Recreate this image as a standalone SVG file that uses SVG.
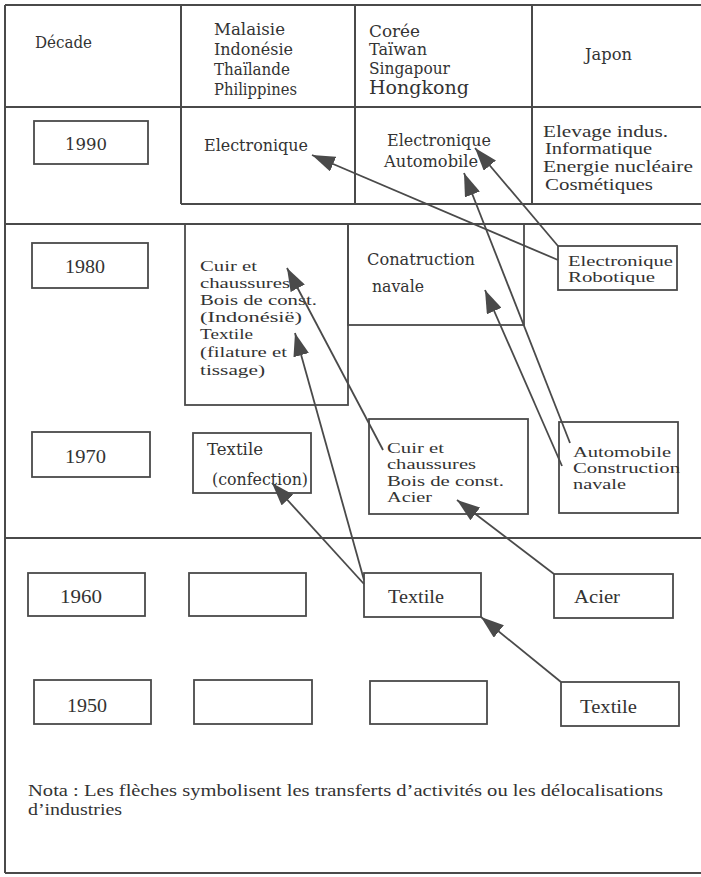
<svg xmlns="http://www.w3.org/2000/svg" width="701" height="877" viewBox="0 0 701 877">
<style>
.grid{fill:none;stroke:#4a4a4a;stroke-width:2}
.box{fill:none;stroke:#4a4a4a;stroke-width:1.8}
.s{font-family:"DejaVu Serif","Liberation Serif",serif;font-size:16px;fill:#333333}
.t{font-family:"Liberation Serif","Times New Roman",serif;font-size:18px;fill:#333333}
.tt{font-family:"Liberation Serif","Times New Roman",serif;font-size:15px;fill:#333333}
.tn{font-family:"Liberation Serif","Times New Roman",serif;font-size:16px;fill:#333333}
.conn line{stroke:#4a4a4a;stroke-width:1.8;marker-end:url(#ah)}
</style>
<defs>
<marker id="ah" markerUnits="userSpaceOnUse" viewBox="0 0 24 16" markerWidth="24" markerHeight="16" refX="23" refY="8" orient="auto"><path d="M0,0 L23,8 L0,16 z" fill="#4a4a4a"/></marker>
</defs>
<rect width="701" height="877" fill="#ffffff"/>
<g id="grid" class="grid">
<path d="M5,5 H701 M5,5 V873 M5,873 H701 M5,107 H701 M181,5 V204 M355,5 V204 M532,5 V204 M181,204 H701 M5,224 H701 M5,538 H701"/>
</g>
<g id="header-decade"><text class="s" x="35" y="48" textLength="57" lengthAdjust="spacingAndGlyphs">Décade</text></g>
<g id="header-malaisie" class="s">
<text x="214" y="35" textLength="71" lengthAdjust="spacingAndGlyphs">Malaisie</text>
<text x="214" y="55" textLength="79" lengthAdjust="spacingAndGlyphs">Indonésie</text>
<text x="214" y="75" textLength="76" lengthAdjust="spacingAndGlyphs">Thaïlande</text>
<text x="214" y="95" textLength="83" lengthAdjust="spacingAndGlyphs">Philippines</text>
</g>
<g id="header-coree" class="s">
<text x="369" y="37" textLength="51" lengthAdjust="spacingAndGlyphs">Corée</text>
<text x="369" y="55" textLength="58" lengthAdjust="spacingAndGlyphs">Taïwan</text>
<text x="369" y="74" textLength="81" lengthAdjust="spacingAndGlyphs">Singapour</text>
<text x="369" y="94" textLength="100" lengthAdjust="spacingAndGlyphs" style="font-size:18px">Hongkong</text>
</g>
<g id="header-japon"><text class="s" x="585" y="60" textLength="47" lengthAdjust="spacingAndGlyphs">Japon</text></g>

<g id="d1990"><rect class="box" x="34" y="121" width="114" height="43"/><text class="s" x="65" y="150" textLength="42" lengthAdjust="spacingAndGlyphs">1990</text></g>
<g id="m1990"><text class="s" x="204" y="151" textLength="104" lengthAdjust="spacingAndGlyphs">Electronique</text></g>
<g id="c1990" class="s">
<text x="387" y="146" textLength="104" lengthAdjust="spacingAndGlyphs">Electronique</text>
<text x="384" y="167" textLength="94" lengthAdjust="spacingAndGlyphs">Automobile</text>
</g>
<g id="j1990" class="tn">
<text x="543" y="137" textLength="125" lengthAdjust="spacingAndGlyphs">Elevage indus.</text>
<text x="545" y="154" textLength="107" lengthAdjust="spacingAndGlyphs">Informatique</text>
<text x="543" y="172" textLength="150" lengthAdjust="spacingAndGlyphs">Energie nucléaire</text>
<text x="545" y="190" textLength="108" lengthAdjust="spacingAndGlyphs">Cosmétiques</text>
</g>

<g id="d1980"><rect class="box" x="32" y="243" width="116" height="45"/><text class="t" x="65" y="273" textLength="40" lengthAdjust="spacingAndGlyphs">1980</text></g>
<g id="m1980"><rect class="box" x="185" y="224" width="163" height="181"/>
<g class="tt">
<text x="200" y="271" textLength="57" lengthAdjust="spacingAndGlyphs">Cuir et</text>
<text x="200" y="288" textLength="90" lengthAdjust="spacingAndGlyphs">chaussures</text>
<text x="200" y="305" textLength="117" lengthAdjust="spacingAndGlyphs">Bois de const.</text>
<text x="200" y="322" textLength="102" lengthAdjust="spacingAndGlyphs">(Indonésië)</text>
<text x="200" y="339" textLength="53" lengthAdjust="spacingAndGlyphs">Textile</text>
<text x="200" y="357" textLength="87" lengthAdjust="spacingAndGlyphs">(filature et</text>
<text x="200" y="375" textLength="65" lengthAdjust="spacingAndGlyphs">tissage)</text>
</g></g>
<g id="c1980"><rect class="box" x="348" y="224" width="176" height="101"/>
<text class="s" x="367" y="265" textLength="108" lengthAdjust="spacingAndGlyphs">Conatruction</text>
<text class="s" x="372" y="292" textLength="52" lengthAdjust="spacingAndGlyphs">navale</text>
</g>
<g id="j1980"><rect class="box" x="558" y="246" width="119" height="44"/>
<text class="tt" x="568" y="266" textLength="105" lengthAdjust="spacingAndGlyphs">Electronique</text>
<text class="tt" x="568" y="282" textLength="87" lengthAdjust="spacingAndGlyphs">Robotique</text>
</g>

<g id="d1970"><rect class="box" x="32" y="432" width="118" height="45"/><text class="t" x="65" y="463" textLength="41" lengthAdjust="spacingAndGlyphs">1970</text></g>
<g id="m1970"><rect class="box" x="193" y="433" width="118" height="60"/>
<text class="s" x="207" y="455" textLength="56" lengthAdjust="spacingAndGlyphs">Textile</text>
<text class="s" x="212" y="485" textLength="96" lengthAdjust="spacingAndGlyphs">(confection)</text>
</g>
<g id="c1970"><rect class="box" x="369" y="419" width="159" height="95"/>
<g class="tt">
<text x="387" y="453" textLength="57" lengthAdjust="spacingAndGlyphs">Cuir et</text>
<text x="387" y="469" textLength="89" lengthAdjust="spacingAndGlyphs">chaussures</text>
<text x="387" y="486" textLength="117" lengthAdjust="spacingAndGlyphs">Bois de const.</text>
<text x="387" y="502" textLength="45" lengthAdjust="spacingAndGlyphs">Acier</text>
</g></g>
<g id="j1970"><rect class="box" x="559" y="422" width="119" height="91"/>
<g class="tt">
<text x="573" y="457" textLength="98" lengthAdjust="spacingAndGlyphs">Automobile</text>
<text x="573" y="473" textLength="107" lengthAdjust="spacingAndGlyphs">Construction</text>
<text x="573" y="489" textLength="53" lengthAdjust="spacingAndGlyphs">navale</text>
</g></g>

<g id="d1960"><rect class="box" x="28" y="573" width="117" height="43"/><text class="t" x="60" y="603" textLength="42" lengthAdjust="spacingAndGlyphs">1960</text></g>
<g id="m1960"><rect class="box" x="189" y="573" width="117" height="43"/></g>
<g id="c1960"><rect class="box" x="364" y="573" width="117" height="44"/><text class="t" x="388" y="603" textLength="56" lengthAdjust="spacingAndGlyphs">Textile</text></g>
<g id="j1960"><rect class="box" x="554" y="574" width="119" height="44"/><text class="t" x="574" y="603" textLength="46" lengthAdjust="spacingAndGlyphs">Acier</text></g>

<g id="d1950"><rect class="box" x="34" y="680" width="117" height="44"/><text class="t" x="67" y="712" textLength="40" lengthAdjust="spacingAndGlyphs">1950</text></g>
<g id="m1950"><rect class="box" x="194" y="680" width="118" height="44"/></g>
<g id="c1950"><rect class="box" x="370" y="681" width="117" height="43"/></g>
<g id="j1950"><rect class="box" x="561" y="682" width="118" height="44"/><text class="t" x="580" y="713" textLength="57" lengthAdjust="spacingAndGlyphs">Textile</text></g>

<g id="nota" class="tn">
<text x="28" y="796" textLength="635" lengthAdjust="spacingAndGlyphs">Nota : Les flèches symbolisent les transferts d’activités ou les délocalisations</text>
<text x="28" y="815" textLength="94" lengthAdjust="spacingAndGlyphs">d’industries</text>
</g>

<g id="connectors" class="conn">
<line x1="558" y1="260" x2="312" y2="155"/>
<line x1="558" y1="246" x2="475" y2="148"/>
<line x1="570" y1="443" x2="464" y2="173"/>
<line x1="562" y1="466" x2="485" y2="290"/>
<line x1="383" y1="450" x2="287" y2="268"/>
<line x1="364" y1="580" x2="295" y2="333"/>
<line x1="364" y1="584" x2="272" y2="483"/>
<line x1="554" y1="574" x2="457" y2="500"/>
<line x1="561" y1="682" x2="481" y2="617"/>
</g>
</svg>
